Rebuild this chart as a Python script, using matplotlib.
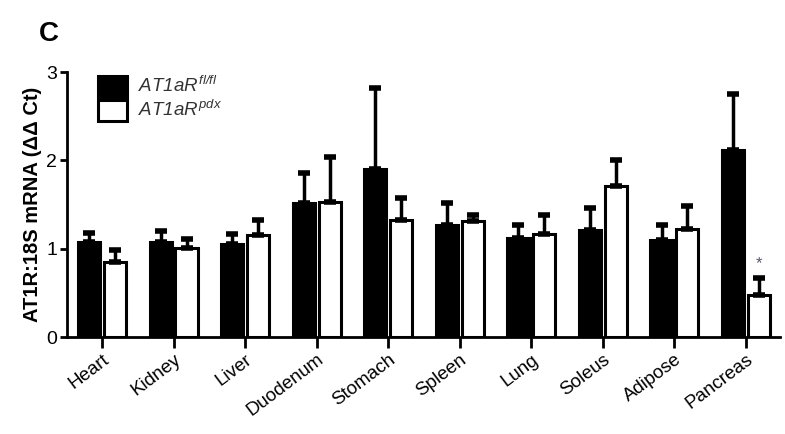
import numpy as np
from matplotlib import pyplot as plt

plt.rcParams['font.family'] = ['Liberation Sans', 'DejaVu Sans']
plt.rcParams['mathtext.fontset'] = 'custom'
plt.rcParams['mathtext.it'] = 'Liberation Sans:italic'
plt.rcParams['mathtext.rm'] = 'Liberation Sans:italic'

tissues = ['Heart', 'Kidney', 'Liver', 'Duodenum', 'Stomach',
           'Spleen', 'Lung', 'Soleus', 'Adipose', 'Pancreas']
flfl_mean = [1.07, 1.07, 1.05, 1.52, 1.90, 1.27, 1.12, 1.21, 1.10, 2.12]
flfl_top = [1.18, 1.20, 1.17, 1.86, 2.82, 1.52, 1.27, 1.46, 1.27, 2.75]
pdx_mean = [0.85, 1.01, 1.16, 1.53, 1.32, 1.31, 1.17, 1.71, 1.22, 0.48]
pdx_top = [0.98, 1.11, 1.33, 2.04, 1.57, 1.38, 1.38, 2.00, 1.48, 0.67]
signif = ['', '', '', '', '', '', '', '', '', '*']

x = np.arange(len(tissues))
flfl_err = np.array(flfl_top) - np.array(flfl_mean)
pdx_err = np.array(pdx_top) - np.array(pdx_mean)

fig = plt.figure(figsize=(7.85, 4.34), dpi=100)
ax = fig.add_axes([0.0854, 0.2235, 0.9086, 0.6105])

w = 0.31
lw = 2.2
ax.bar(x - 0.18, flfl_mean, w, color='black', edgecolor='black', linewidth=lw,
       yerr=[np.zeros(len(x)), flfl_err], capsize=4.5,
       error_kw=dict(elinewidth=2.5, capthick=4, ecolor='black'),
       label='$AT1aR^{fl/fl}$', zorder=3)
ax.bar(x + 0.18, pdx_mean, w, color='white', edgecolor='black', linewidth=lw,
       yerr=[np.zeros(len(x)), pdx_err], capsize=4.5,
       error_kw=dict(elinewidth=2.5, capthick=4, ecolor='black'),
       label='$AT1aR^{pdx}$', zorder=3)

for i, s in enumerate(signif):
    if s:
        ax.text(x[i] + 0.18, pdx_top[i] + 0.08, s, ha='center', va='bottom',
                fontsize=12, color='#555570')

ax.set_xlim(-0.49, 9.48)
ax.set_ylim(0, 3)
ax.set_yticks([0, 1, 2, 3])
ax.set_xticks(x)
ax.set_xticklabels(tissues, rotation=37, ha='right', rotation_mode='anchor',
                   fontsize=13.5)
ax.tick_params(axis='y', labelsize=14, width=2, length=5, pad=2)
ax.tick_params(axis='x', width=2, length=8, pad=2)
for side in ['top', 'right']:
    ax.spines[side].set_visible(False)
for side in ['left', 'bottom']:
    ax.spines[side].set_linewidth(2)
ax.set_ylabel('AT1R:18S mRNA (ΔΔ Ct)', fontsize=14.5, fontweight='bold',
              labelpad=3)

leg = ax.legend(loc='upper left', bbox_to_anchor=(0.02, 1.05), frameon=False,
                fontsize=13.5, handlelength=1.55, handleheight=1.35,
                labelspacing=0.15, handletextpad=0.6)
for t in leg.get_texts():
    t.set_color('#333333')

fig.text(0.05, 0.905, 'C', fontsize=20, fontweight='bold')

fig.savefig('out.png', dpi=100)
